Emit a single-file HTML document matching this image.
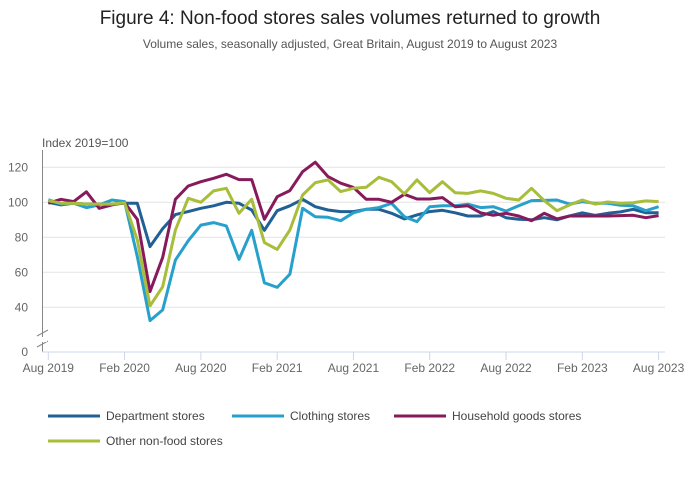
<!DOCTYPE html>
<html><head><meta charset="utf-8"><style>
body{margin:0;background:#fff;}
svg{display:block;font-family:"Liberation Sans",sans-serif;}
</style></head><body>
<svg id="chart" width="700" height="502">
<text x="350" y="24" text-anchor="middle" font-size="19" fill="#222">Figure 4: Non-food stores sales volumes returned to growth</text>
<text x="350" y="48" text-anchor="middle" font-size="12" fill="#555">Volume sales, seasonally adjusted, Great Britain, August 2019 to August 2023</text>
<text x="42" y="147" font-size="12" fill="#555">Index 2019=100</text>
<g id="grid"></g><g id="axes"></g><g id="series"></g><g id="legend"></g>
</svg>
<script>
const xTickLabels=["Aug 2019","Feb 2020","Aug 2020","Feb 2021","Aug 2021","Feb 2022","Aug 2022","Feb 2023","Aug 2023"];
const yTicks=[40,60,80,100,120];
const seriesNames=["Department stores","Clothing stores","Household goods stores","Other non-food stores"];
const department=[100,98.5,99.5,99,99,99,99.5,99.4,74.7,85,93,94.7,96.6,98,100,99.4,95.6,84,95.2,98,101.7,97.5,95.6,94.7,94.7,96,96,93.7,90.5,92.8,94.7,95.4,94,92.2,92.2,94.7,91.2,90.3,90,91.2,90,92.2,94,92.6,93.7,94.5,96,94,94];
const clothing=[101.5,99,99.5,97,98.5,101.3,100.4,69,32.4,38.5,67,78,87,88.4,86.5,67.4,84,54,51.4,59,96.6,91.8,91.4,89.5,94,96,97,99.4,91.8,89,97.5,98,98,98.9,97,97.5,95,98,101,101.1,101.3,99,100.4,99.4,99.4,98.3,98,95.2,97.5];
const household=[99.5,101.7,100.4,106,96.6,98.5,99.8,90.3,49,68.6,101.7,109.3,111.8,113.7,116,113,113,90.3,103.2,106.7,117.5,122.9,114.7,110.9,108.5,101.7,101.7,100,104.6,101.9,101.9,102.7,97.5,98,94,92.6,93.7,92.2,89.5,93.7,90.5,92.2,92.2,92.2,92.2,92.4,92.6,91.2,92.4];
const other=[101,99.5,99.5,99,99,99,99.8,78.5,40.8,51.8,84.2,102.3,100,106.5,108,93.7,101.7,77,73.1,84.2,104.2,111.2,112.8,106.1,108,108.6,114.3,111.8,104.8,112.8,105.5,111.8,105.5,105.1,106.5,105.1,102.3,101.3,108,101,95.2,98.5,101.3,99,100.2,99.4,99.8,100.8,100.4];
const colors=["#206095","#27a0cc","#871a5b","#a8bd3a"];
const NS="http://www.w3.org/2000/svg";
const x=i=>48.3+i*(610.3/48);
const y=v=>202.3-(v-100)*1.75;
function mk(t,a,p){const e=document.createElementNS(NS,t);for(const k in a)e.setAttribute(k,a[k]);p.appendChild(e);return e;}
const grid=document.getElementById('grid'),axes=document.getElementById('axes'),ser=document.getElementById('series'),leg=document.getElementById('legend');
yTicks.forEach(v=>{
  const l=mk('line',{x1:43,x2:665,y1:y(v),y2:y(v),stroke:'#e3e3e3','stroke-width':1},grid);
  
  
  const t=mk('text',{x:28,y:y(v)+4,'text-anchor':'end','font-size':12,fill:'#666'},grid);t.textContent=v;
  
  
});
const z=mk('text',{x:28,y:356,'text-anchor':'end','font-size':12,fill:'#666'},grid);z.textContent='0';


const ya=mk('path',{d:'M42.5 150V352',stroke:'#888','stroke-width':1,fill:'none'},axes);


const br=mk('path',{d:'M37 336L48 330M37 347L48 341',stroke:'#888','stroke-width':1,fill:'none'},axes);


const br2=mk('rect',{x:38,y:337,width:9,height:5,fill:'#fff'},axes);


const xa=mk('line',{x1:42,x2:665,y1:352,y2:352,stroke:'#ccd6eb','stroke-width':1},axes);


xTickLabels.forEach((s,k)=>{
  const xx=x(k*6);
  const tk=mk('line',{x1:xx,x2:xx,y1:352,y2:360,stroke:'#ccd6eb'},axes);
  
  
  const t=mk('text',{x:xx,y:372,'text-anchor':'middle','font-size':12,fill:'#666'},axes);t.textContent=s;
  
  
});
[department,clothing,household,other].forEach((d,s)=>{
  const p=mk('polyline',{points:d.map((v,i)=>x(i).toFixed(1)+','+y(v).toFixed(1)).join(' '),fill:'none',stroke:colors[s],'stroke-width':3,'stroke-linejoin':'round'},ser);
  
  
});
const lp=[[48,416],[232,416],[394,416],[48,441]];
seriesNames.forEach((n,s)=>{
  const g=mk('g',{},leg);
  
  
  mk('line',{x1:lp[s][0],x2:lp[s][0]+52,y1:lp[s][1],y2:lp[s][1],stroke:colors[s],'stroke-width':3},g);
  const t=mk('text',{x:lp[s][0]+58,y:lp[s][1]+4,'font-size':12,fill:'#444'},g);t.textContent=n;
});
</script>
</body></html>
